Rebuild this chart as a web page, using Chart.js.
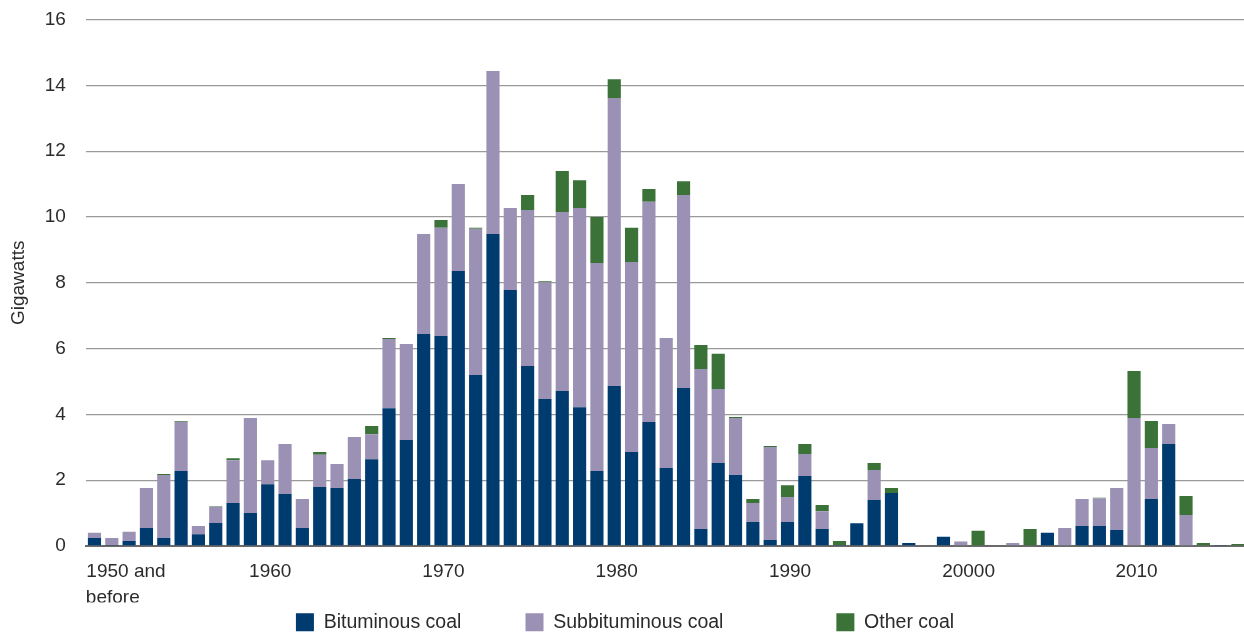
<!DOCTYPE html>
<html>
<head>
<meta charset="utf-8">
<script src="https://cdn.jsdelivr.net/npm/chart.js@4.4.1/dist/chart.umd.min.js"></script>
<style>
  html, body { margin: 0; padding: 0; overflow: hidden; background: #ffffff; width: 1244px; height: 635px; }
  canvas { display: block; }
</style>
</head>
<body>
<canvas id="chart" width="1250" height="642"></canvas>
<script>
// ---- Data (gigawatts) ----
const categories = ["1950 and before","1951","1952","1953","1954","1955","1956","1957","1958","1959",
  "1960","1961","1962","1963","1964","1965","1966","1967","1968","1969",
  "1970","1971","1972","1973","1974","1975","1976","1977","1978","1979",
  "1980","1981","1982","1983","1984","1985","1986","1987","1988","1989",
  "1990","1991","1992","1993","1994","1995","1996","1997","1998","1999",
  "2000","2001","2002","2003","2004","2005","2006","2007","2008","2009",
  "2010","2011","2012","2013","2014","2015","2016"];

const bituminous = [0.24,0.03,0.15,0.55,0.24,2.28,0.36,0.70,1.31,1.00,
  1.88,1.58,0.55,1.79,1.76,2.04,2.64,4.19,3.22,6.44,
  6.38,8.36,5.20,9.48,7.78,5.47,4.47,4.71,4.22,2.28,
  4.86,2.86,3.77,2.37,4.80,0.52,2.52,2.16,0.73,0.18,
  0.73,2.13,0.52,0.03,0.69,1.40,1.61,0.09,0.02,0.28,
  0.02,0.02,0,0,0,0.40,0,0.61,0.61,0.49,
  0,1.43,3.10,0,0,0.03,0];

const subbituminous = [0.16,0.21,0.28,1.21,1.92,1.49,0.25,0.49,1.30,2.89,
  0.73,1.52,0.88,0.98,0.73,1.27,0.76,2.10,2.92,3.04,
  3.29,2.64,4.44,4.96,2.49,4.74,3.55,5.44,6.05,6.32,
  8.76,5.77,6.69,3.95,5.87,4.86,2.25,1.73,0.58,2.83,
  0.76,0.67,0.54,0,0,0.91,0,0,0,0,
  0.12,0,0,0.09,0,0,0.55,0.82,0.84,1.27,
  3.89,1.55,0.61,0.94,0,0,0];

const otherCoal = [0,0,0,0,0.03,0.02,0,0.02,0.06,0,
  0,0,0,0.09,0,0,0.25,0.03,0,0,
  0.24,0,0.03,0,0,0.46,0.03,1.25,0.85,1.40,
  0.57,1.04,0.39,0,0.42,0.73,1.07,0.03,0.12,0.03,
  0.36,0.30,0.19,0.12,0,0.21,0.15,0,0,0,
  0,0.44,0,0,0.52,0,0,0,0.02,0,
  1.43,0.82,0,0.58,0.09,0,0.06];

const seriesNames = ["Bituminous coal","Subbituminous coal","Other coal"];
const seriesColors = ["#003B70","#9B91B4","#3A7238"];

// x tick labels shown (category -> displayed text)
const labeledCategories = ["1950 and before","1960","1970","1980","1990","2000","2010"];
const labeledTexts = [["           1950 and","      before"],"1960","1970","1980","1990","  20000","2010"];

const yMin = 0, yMax = 16, yStep = 2;

// ---- Chart ----
const FONT = "'Liberation Sans', Arial, Helvetica, sans-serif";
Chart.defaults.font.family = FONT;
Chart.defaults.color = "#2b2b2b";

const legendSpaces = [10, 19, 0];

new Chart(document.getElementById("chart"), {
  type: "bar",
  data: {
    labels: categories,
    datasets: [
      { label: seriesNames[0], data: bituminous, backgroundColor: seriesColors[0] },
      { label: seriesNames[1], data: subbituminous, backgroundColor: seriesColors[1] },
      { label: seriesNames[2], data: otherCoal, backgroundColor: seriesColors[2] }
    ]
  },
  options: {
    responsive: false,
    animation: false,
    events: [],
    datasets: { bar: { barPercentage: 0.76, categoryPercentage: 1.0, borderWidth: 0 } },
    layout: { padding: { top: 19.6, right: 0, bottom: 0, left: 0 } },
    plugins: {
      tooltip: { enabled: false },
      legend: {
        position: "bottom",
        labels: {
          boxWidth: 18,
          boxHeight: 18,
          padding: 10,
          color: "#2b2b2b",
          font: { size: 19.5, family: FONT },
          generateLabels: (chart) => {
            const items = Chart.defaults.plugins.legend.labels.generateLabels(chart);
            items.forEach((it, i) => { it.text = it.text + " ".repeat(legendSpaces[i]); it.lineWidth = 0; });
            return items;
          }
        }
      }
    },
    scales: {
      x: {
        stacked: true,
        grid: { display: false, drawTicks: false },
        border: { display: true, color: "#6a6a6a", width: 2 },
        ticks: {
          autoSkip: false,
          maxRotation: 0,
          minRotation: 0,
          padding: 12,
          labelOffset: 2.5,
          color: "#2b2b2b",
          font: { size: 19, lineHeight: 1.4, family: FONT },
          callback: function (value, index) {
            const cat = categories[index];
            const k = labeledCategories.indexOf(cat);
            return k >= 0 ? labeledTexts[k] : "";
          }
        },
        afterFit: (scale) => { scale.height = 56.5; }
      },
      y: {
        stacked: true,
        min: yMin,
        max: yMax,
        grid: { color: "#9a9a9a", lineWidth: 1.3, drawTicks: true, tickLength: 20, tickColor: "rgba(0,0,0,0)" },
        border: { display: false },
        ticks: {
          stepSize: yStep,
          padding: 0,
          color: "#2b2b2b",
          font: { size: 19, family: FONT }
        },
        title: {
          display: true,
          text: "Gigawatts",
          color: "#2b2b2b",
          font: { size: 19, family: FONT },
          padding: { top: 7, bottom: 0 }
        },
        afterFit: (scale) => { scale.width = 85.8; }
      }
    }
  }
});
</script>
</body>
</html>
